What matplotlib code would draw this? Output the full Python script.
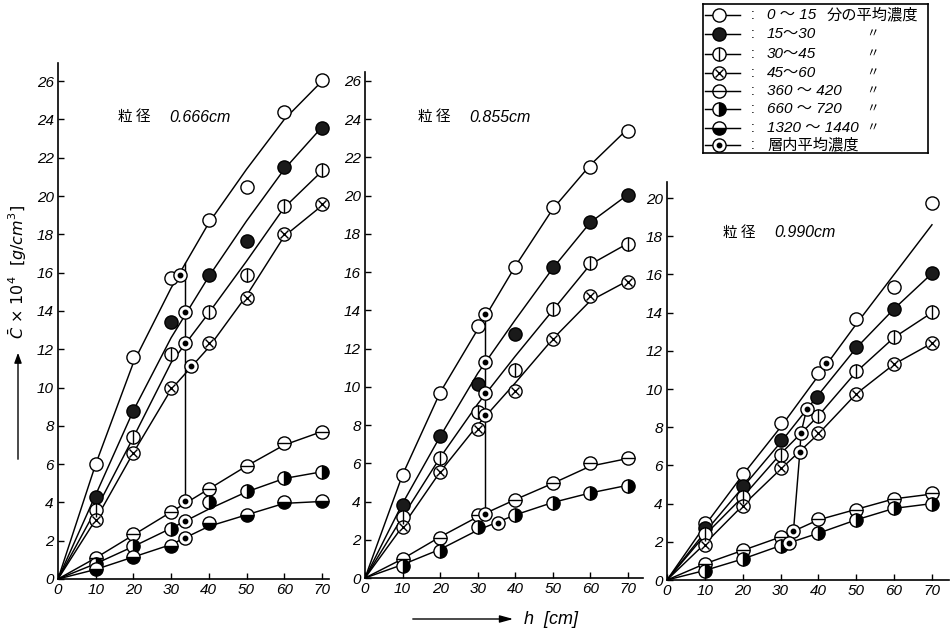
import matplotlib
matplotlib.use("Agg")
import matplotlib.pyplot as plt

plt.rcParams['font.family'] = ['Liberation Sans', 'Noto Sans CJK JP', 'DejaVu Sans']
plt.rcParams['mathtext.fontset'] = 'dejavusans'

W, H = 953, 635

# ---------------- data ----------------
X = [10, 20, 30, 40, 50, 60, 70]          # measured h [cm]
NX = [0, 10, 20, 30, 40, 50, 60, 70]      # curve nodes h [cm]

# Panel 1 : particle diameter 0.666 cm
p1_open = [6.0, 11.6, 15.7, 18.75, 20.45, 24.4, 26.05]
p1_filled = [4.3, 8.8, 13.4, 15.9, 17.65, 21.5, 23.55]
p1_vline = [3.6, 7.4, 11.75, 13.95, 15.9, 19.5, 21.35]
p1_cross = [3.1, 6.6, 10.0, 12.3, 14.7, 18.0, 19.6]
p1_hline = [1.1, 2.35, 3.5, 4.7, 5.9, 7.1, 7.7]
p1_halfr = [0.8, 1.7, 2.6, 4.0, 4.6, 5.3, 5.6]
p1_halfb = [0.5, 1.15, 1.7, 2.9, 3.35, 4.0, 4.05]
c1_open = [0, 6.0, 11.3, 15.2, 18.6, 21.4, 24.0, 26.0]
c1_filled = [0, 4.4, 8.8, 12.6, 15.8, 18.7, 21.4, 23.6]
c1_vline = [0, 3.6, 7.4, 11.3, 13.9, 16.6, 19.4, 21.3]
c1_cross = [0, 3.1, 6.6, 9.9, 12.1, 14.8, 17.9, 19.5]
c1_hline = [0, 1.1, 2.3, 3.5, 4.7, 5.9, 7.0, 7.7]
c1_halfr = [0, 0.8, 1.7, 2.65, 3.65, 4.55, 5.25, 5.6]
c1_halfb = [0, 0.5, 1.15, 1.8, 2.75, 3.35, 3.95, 4.05]
d1_x = [32.4, 33.7, 33.7, 35.3, 33.7, 33.7, 33.7]
d1_y = [15.9, 13.95, 12.3, 11.1, 4.05, 3.05, 2.15]
v1_x = [33.7, 33.7]
v1_y = [16.5, 4.05]

# Panel 2 : particle diameter 0.855 cm
p2_open = [5.4, 9.7, 13.2, 16.25, 19.4, 21.5, 23.4]
p2_filled = [3.8, 7.4, 10.15, 12.75, 16.25, 18.6, 20.05]
p2_vline = [3.2, 6.3, 8.7, 10.9, 14.05, 16.45, 17.45]
p2_cross = [2.65, 5.55, 7.8, 9.8, 12.5, 14.75, 15.5]
p2_hline = [1.0, 2.1, 3.3, 4.1, 4.95, 6.0, 6.3]
p2_halfr = [0.65, 1.4, 2.65, 3.3, 3.9, 4.45, 4.8]
c2_open = [0, 5.4, 9.7, 13.0, 16.3, 19.3, 21.6, 23.5]
c2_filled = [0, 3.9, 7.4, 10.7, 13.5, 16.2, 18.6, 20.05]
c2_vline = [0, 3.2, 6.3, 9.1, 11.6, 14.0, 16.4, 17.5]
c2_cross = [0, 2.7, 5.55, 8.0, 10.2, 12.5, 14.5, 15.55]
c2_hline = [0, 1.0, 2.15, 3.2, 4.1, 4.95, 5.85, 6.25]
c2_halfr = [0, 0.7, 1.5, 2.5, 3.3, 3.95, 4.45, 4.85]
d2_x = [32, 32, 32, 32, 32, 35.3]
d2_y = [13.8, 11.3, 9.65, 8.5, 3.35, 2.9]
v2_x = [32, 32]
v2_y = [13.8, 3.35]

# Panel 3 : particle diameter 0.990 cm
p3_open = [3.0, 5.55, 8.2, 10.85, 13.65, 15.35, 19.75]
p3_filled = [2.7, 4.9, 7.35, 9.6, 12.2, 14.2, 16.05]
p3_vline = [2.4, 4.35, 6.55, 8.6, 10.95, 12.75, 14.05]
p3_cross = [1.85, 3.85, 5.85, 7.7, 9.75, 11.3, 12.4]
p3_hline = [0.85, 1.55, 2.25, 3.2, 3.65, 4.25, 4.55]
p3_halfr = [0.45, 1.1, 1.8, 2.45, 3.15, 3.75, 4.0]
c3_open = [0, 2.85, 5.5, 8.0, 10.7, 13.4, 16.0, 18.6]
c3_filled = [0, 2.5, 4.85, 7.2, 9.7, 12.15, 14.2, 16.05]
c3_vline = [0, 2.35, 4.35, 6.6, 8.6, 10.9, 12.7, 14.0]
c3_cross = [0, 1.9, 3.9, 5.8, 7.65, 9.75, 11.3, 12.4]
c3_hline = [0, 0.85, 1.55, 2.25, 3.15, 3.7, 4.25, 4.5]
c3_halfr = [0, 0.5, 1.1, 1.8, 2.45, 3.15, 3.75, 4.0]
d3_x = [42, 36.9, 35.4, 35.1, 33.4, 32.2]
d3_y = [11.35, 8.95, 7.7, 6.7, 2.55, 1.95]
v3_x = [36.9, 35.4, 35.1, 33.4]
v3_y = [8.95, 7.7, 6.7, 2.55]

panel_titles = ["0.666cm", "0.855cm", "0.990cm"]
legend_labels = ["0 ～ 15", "15～30", "30～45", "45～60", "360 ～ 420", "660 ～ 720", "1320 ～ 1440", "層内平均濃度"]
legend_kinds = ['open', 'filled', 'vline', 'cross', 'hline', 'halfr', 'halfb', 'dot']

# ---------------- styling helpers ----------------
MS = 9.5
MEW = 1.0
LW = 1.05


def marker(ax, x, y, kind, zo=4):
    base = dict(ls='none', marker='o', ms=MS, mec='black', mew=MEW, zorder=zo)
    if kind == 'filled':
        ax.plot(x, y, mfc='#1a1a1a', **base)
    elif kind == 'halfr':
        ax.plot(x, y, fillstyle='right', mfc='black', markerfacecoloralt='white', **base)
    elif kind == 'halfb':
        ax.plot(x, y, fillstyle='bottom', mfc='black', markerfacecoloralt='white', **base)
    else:
        ax.plot(x, y, mfc='white', **base)
        over = dict(ls='none', color='black', mew=MEW, zorder=zo + 1)
        if kind == 'vline':
            ax.plot(x, y, marker='|', ms=MS, **over)
        elif kind == 'hline':
            ax.plot(x, y, marker='_', ms=MS, **over)
        elif kind == 'cross':
            ax.plot(x, y, marker='x', ms=MS * 0.68, **over)
        elif kind == 'dot':
            ax.plot(x, y, marker='o', ms=3.2, mfc='black', mec='black', ls='none', zorder=zo + 1)


def px_axes(left, bottom, right, top):
    return fig.add_axes([left / W, 1 - bottom / H, (right - left) / W, (bottom - top) / H])


fig = plt.figure(figsize=(W / 100, H / 100), dpi=100)

panels = [
    dict(box=(58, 579, 329.5, 63), xlim=72, ylim=26.95, yt=26,
         pts=[p1_open, p1_filled, p1_vline, p1_cross, p1_hline, p1_halfr, p1_halfb],
         cur=[c1_open, c1_filled, c1_vline, c1_cross, c1_hline, c1_halfr, c1_halfb],
         kinds=['open', 'filled', 'vline', 'cross', 'hline', 'halfr', 'halfb'],
         dx=d1_x, dy=d1_y, vx=v1_x, vy=v1_y),
    dict(box=(365, 578, 643, 72), xlim=74, ylim=26.46, yt=26,
         pts=[p2_open, p2_filled, p2_vline, p2_cross, p2_hline, p2_halfr],
         cur=[c2_open, c2_filled, c2_vline, c2_cross, c2_hline, c2_halfr],
         kinds=['open', 'filled', 'vline', 'cross', 'hline', 'halfr'],
         dx=d2_x, dy=d2_y, vx=v2_x, vy=v2_y),
    dict(box=(667, 580, 949, 182), xlim=74.5, ylim=20.84, yt=20,
         pts=[p3_open, p3_filled, p3_vline, p3_cross, p3_hline, p3_halfr],
         cur=[c3_open, c3_filled, c3_vline, c3_cross, c3_hline, c3_halfr],
         kinds=['open', 'filled', 'vline', 'cross', 'hline', 'halfr'],
         dx=d3_x, dy=d3_y, vx=v3_x, vy=v3_y),
]

tickfont = dict(family=['Liberation Sans', 'DejaVu Sans'], style='italic', size=11)

for p in panels:
    l, b, r, t = p['box']
    ax = px_axes(l, b, r, t)
    ax.set_xlim(0, p['xlim'])
    ax.set_ylim(0, p['ylim'])
    for s in ['top', 'right']:
        ax.spines[s].set_visible(False)
    for s in ['left', 'bottom']:
        ax.spines[s].set_linewidth(1.2)
    ax.set_xticks(range(0, 71, 10))
    ax.set_yticks(range(0, p['yt'] + 1, 2))
    ax.tick_params(direction='in', length=4, width=1.0, pad=3)
    ax.set_xticklabels([str(v) for v in range(0, 71, 10)], fontdict=tickfont)
    ax.set_yticklabels([str(v) for v in range(0, p['yt'] + 1, 2)], fontdict=tickfont)
    ax.patch.set_alpha(0)
    for c, pt, k in zip(p['cur'], p['pts'], p['kinds']):
        ax.plot(NX, c, color='black', lw=LW, zorder=2, solid_joinstyle='round')
        xs = list(X)
        if pt is p3_filled:
            xs[3] = 39.5
        marker(ax, xs, pt, k)
    ax.plot(p['vx'], p['vy'], color='black', lw=LW, zorder=3)
    marker(ax, p['dx'], p['dy'], 'dot', zo=6)

# titles
title_pos = [(118, 117), (418, 117), (723, 233)]
for (tx, ty), tt in zip(title_pos, panel_titles):
    fig.text(tx / W, 1 - ty / H, "粒 径", family=['Noto Sans CJK JP'], size=10.5,
             ha='left', va='center')
    fig.text((tx + 51) / W, 1 - ty / H, tt, family=['Liberation Sans', 'DejaVu Sans'],
             style='italic', size=11.5, ha='left', va='center')

# y label with arrow
fig.text(18 / W, 1 - 272 / H, r"$\bar{C}$ × $10^4$  [$g/cm^3$]", rotation=90,
         ha='center', va='center', size=11.5,
         family=['DejaVu Sans', 'Noto Sans CJK JP'])
fig.add_artist(matplotlib.patches.FancyArrowPatch(
    (18 / W, 1 - 462 / H), (18 / W, 1 - 350 / H), transform=fig.transFigure,
    arrowstyle='-|>,head_length=6,head_width=2.2', color='black', lw=1.0,
    mutation_scale=1))

# x label with arrow
fig.add_artist(matplotlib.patches.FancyArrowPatch(
    (410 / W, 1 - 619 / H), (516 / W, 1 - 619 / H), transform=fig.transFigure,
    arrowstyle='-|>,head_length=8,head_width=2.2', color='black', lw=1.0,
    mutation_scale=1))
fig.text(524 / W, 1 - 619 / H, "h  [cm]", family=['Liberation Sans', 'DejaVu Sans'],
         style='italic', size=13, ha='left', va='center')

# legend (drawn in pixel-coordinate axes)
lg = px_axes(703, 153, 928, 4)
lg.set_xlim(703, 928)
lg.set_ylim(153, 4)
lg.set_xticks([])
lg.set_yticks([])
for s in lg.spines.values():
    s.set_linewidth(1.2)
rows = [15, 34, 54, 73, 91, 109, 128, 145]
for yy, lab, k in zip(rows, legend_labels, legend_kinds):
    lg.plot([705, 740], [yy, yy], color='black', lw=LW, zorder=2)
    marker(lg, [719], [yy], k)
    lg.text(753, yy, ":", ha='center', va='center', size=10,
            family=['Liberation Sans', 'DejaVu Sans'])
    if k == 'dot':
        lg.text(767, yy, lab, ha='left', va='center', size=11,
                family=['Noto Sans CJK JP'])
    else:
        lg.text(767, yy, lab, ha='left', va='center', size=11, style='italic',
                family=['Liberation Sans', 'Noto Sans CJK JP'])
    if k == 'open':
        lg.text(827, yy, "分の平均濃度", ha='left', va='center', size=11,
                family=['Noto Sans CJK JP'])
    elif k != 'dot':
        lg.text(866, yy, "〃", ha='left', va='center', size=9,
                family=['Noto Sans CJK JP'])

fig.savefig("out.png", dpi=100)
